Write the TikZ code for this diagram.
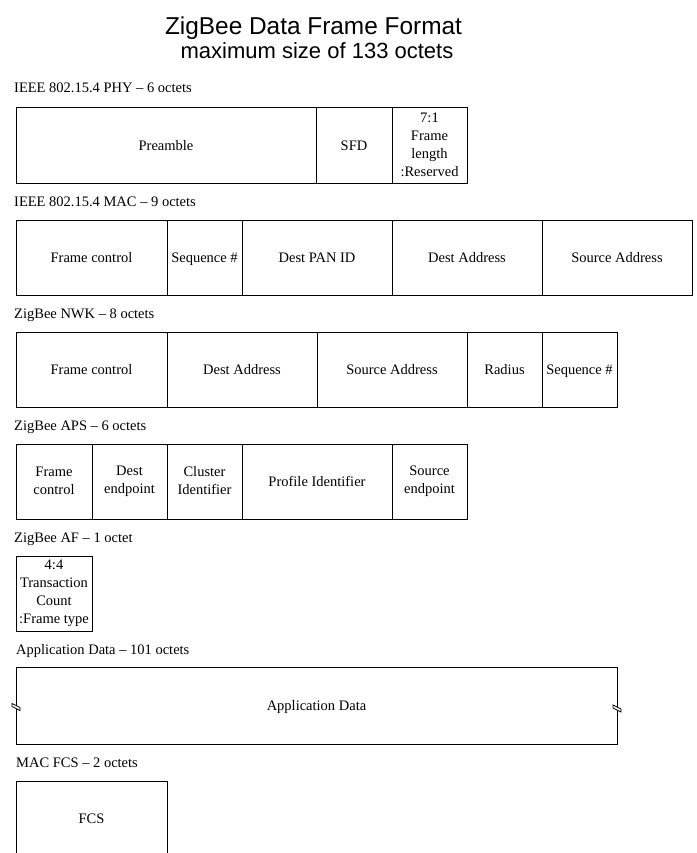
\documentclass[tikz,border=0pt]{standalone}
\usepackage{fontspec}
\setmainfont{Liberation Serif}
\newfontfamily\titlefont{Liberation Sans}
\newcommand{\topstrut}{\rule{0pt}{12.5pt}}
\newcommand{\botstrut}{\rule[-2.3pt]{0pt}{2.3pt}}
\begin{document}
\begin{tikzpicture}[x=1pt,y=-1pt,
  cell/.style={draw=black, line width=1pt, anchor=north west, inner sep=0pt, outer sep=0pt,
    minimum height=75pt, align=center, font=\fontsize{14.5}{18}\selectfont,
    execute at begin node={\topstrut}, execute at end node={\botstrut}},
  lbl/.style={anchor=base west, inner sep=0pt, font=\fontsize{14.5}{17}\selectfont},
  brk/.style={fill=white, draw=black, line width=0.8pt}]
\useasboundingbox (0,0) rectangle (696,853);
\node[anchor=base, inner sep=0pt, font=\titlefont\fontsize{24.4}{28}\selectfont] (title) at (313.5,35) {ZigBee Data Frame Format};
\node[anchor=base, inner sep=0pt, font=\titlefont\fontsize{22}{25}\selectfont] (subtitle) at (317,59) {maximum size of 133 octets};

% PHY
\node[lbl] (lphy) at (14,93) {IEEE 802.15.4 PHY -- 6 octets};
\node[cell, minimum width=300pt] (pre) at (16,108) {Preamble};
\node[cell, minimum width=76pt] (sfd) at (316,108) {SFD};
\node[cell, minimum width=75pt] (flen) at (392,108) {7:1\\Frame\\length\\:Reserved};

% MAC
\node[lbl] (lmac) at (14,206) {IEEE 802.15.4 MAC -- 9 octets};
\node[cell, minimum width=151pt] (mfc) at (16,220) {Frame control};
\node[cell, minimum width=75pt] (mseq) at (167,220) {Sequence \#};
\node[cell, minimum width=150pt] (mpan) at (242,220) {Dest PAN ID};
\node[cell, minimum width=150pt] (mdst) at (392,220) {Dest Address};
\node[cell, minimum width=150pt] (msrc) at (542,220) {Source Address};

% NWK
\node[lbl] (lnwk) at (14,318) {ZigBee NWK -- 8 octets};
\node[cell, minimum width=151pt] (nfc) at (16,332) {Frame control};
\node[cell, minimum width=150pt] (ndst) at (167,332) {Dest Address};
\node[cell, minimum width=150pt] (nsrc) at (317,332) {Source Address};
\node[cell, minimum width=75pt] (nrad) at (467,332) {Radius};
\node[cell, minimum width=75pt] (nseq) at (542,332) {Sequence \#};

% APS
\node[lbl] (laps) at (14,430) {ZigBee APS -- 6 octets};
\node[cell, minimum width=76pt] (afc) at (16,444) {Frame\\control};
\node[cell, minimum width=75pt] (adep) at (92,444) {Dest\\endpoint};
\node[cell, minimum width=75pt] (aclu) at (167,444) {Cluster\\Identifier};
\node[cell, minimum width=150pt] (apro) at (242,444) {Profile Identifier};
\node[cell, minimum width=75pt] (asep) at (392,444) {Source\\endpoint};

% AF
\node[lbl] (laf) at (14,542) {ZigBee AF -- 1 octet};
\node[cell, minimum width=76pt] (aftc) at (16,556) {4:4\\Transaction\\Count\\:Frame type};

% Application data
\node[lbl] (lapp) at (16,654) {Application Data -- 101 octets};
\node[cell, minimum width=601pt, minimum height=77pt] (app) at (16,667) {Application Data};
\path[brk] (12,703.5) -- (20,707.5) -- (20,710.5) -- (12,706.5) -- cycle;
\path[brk] (613,705) -- (621,709) -- (621,712) -- (613,708) -- cycle;

% FCS
\node[lbl] (lfcs) at (16,767) {MAC FCS -- 2 octets};
\node[anchor=north west, inner sep=0pt, outer sep=0pt, minimum width=151pt, minimum height=75pt,
  font=\fontsize{14.5}{18}\selectfont, execute at begin node={\topstrut}, execute at end node={\botstrut}] (fcs) at (16,781) {FCS};
\draw[line width=1pt] (fcs.south west) -- (fcs.north west) -- (fcs.north east) -- (fcs.south east);
\end{tikzpicture}
\end{document}
